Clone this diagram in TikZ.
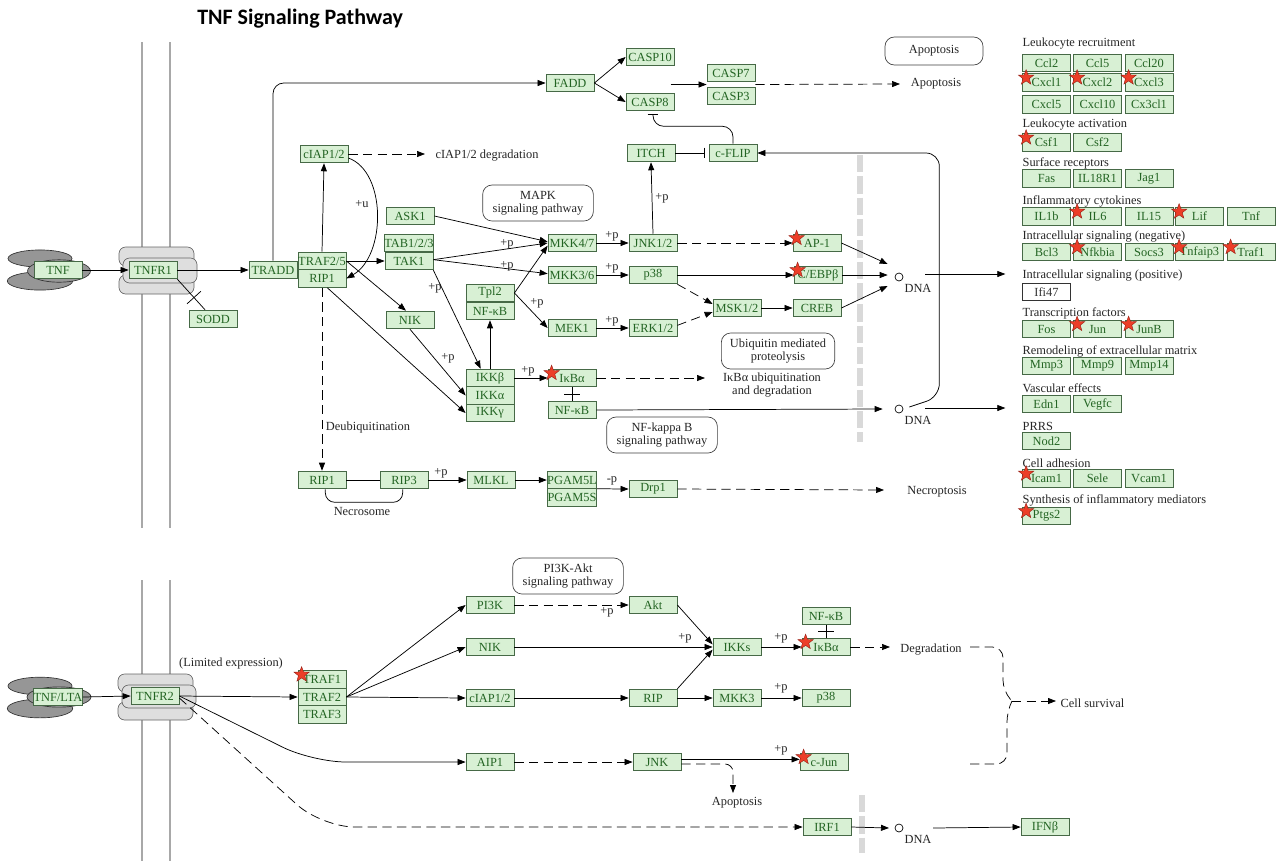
\documentclass[tikz,border=0pt]{standalone}
\usepackage{fontspec}
\setmainfont{Liberation Serif}
\newfontfamily\titlefont{Carlito}
\usetikzlibrary{arrows.meta,shapes.geometric,calc}
\definecolor{gfill}{RGB}{216,240,212}
\definecolor{gborder}{RGB}{70,105,70}
\definecolor{gtext}{RGB}{35,100,35}
\definecolor{starred}{RGB}{236,62,40}
\definecolor{stardark}{RGB}{150,30,20}
\definecolor{memb}{RGB}{168,168,168}
\definecolor{recfill}{RGB}{222,222,222}
\definecolor{ligfill}{RGB}{150,150,150}
\newcommand{\gf}{\fontsize{9.3}{10}\selectfont}
\newcommand{\kst}[2]{\node[kstar] (#1) at ([xshift=3pt,yshift=-3.3pt]#2.north west) {};}
\tikzset{
 gene/.style={draw=gborder, fill=gfill, text=gtext, font=\gf, minimum width=36pt, minimum height=13.3pt, inner sep=0pt, line width=0.6pt},
 wgene/.style={gene, fill=white, draw=black!80, text=black!80},
 kstar/.style={star, star points=5, star point ratio=2.4, minimum size=12pt, inner sep=0pt, fill=starred, draw=stardark, line width=0.3pt},
 lbl/.style={font=\gf, inner sep=1pt, text=black!85, align=center},
 pw/.style={draw=black!75, rounded corners=7pt, align=center, font=\fontsize{9.3}{9.8}\selectfont, inner sep=0pt, minimum width=83pt, minimum height=27pt, line width=0.5pt, text=black!85},
 arr/.style={-{Triangle[length=6pt,width=4.5pt]}, line width=0.55pt},
 darr/.style={arr, dash pattern=on 7pt off 4pt},
 dsh/.style={line width=0.55pt, dash pattern=on 7pt off 4pt},
 inh/.style={-{Bar[width=8pt]}, line width=0.55pt},
 ln/.style={line width=0.55pt},
 membrane/.style={draw=memb, line width=2.2pt},
 rec/.style={draw=black!60, fill=recfill, rounded corners=5pt, line width=0.5pt},
 lig/.style={draw=black!80, fill=ligfill, line width=0.5pt},
 gate/.style={draw=black!15, line width=4pt, dash pattern=on 13pt off 3pt},
 dnac/.style={circle, draw=black, fill=white, minimum size=6pt, inner sep=0pt, line width=0.5pt},
}
\begin{document}
\begin{tikzpicture}[x=0.75pt,y=-0.75pt]
\useasboundingbox (0,0) rectangle (1280,861);
\fill[white] (0,0) rectangle (1280,861);

\node[anchor=west, inner sep=0pt, font=\titlefont\fontsize{16.5}{18}\selectfont\bfseries] (title) at (197,19) {TNF Signaling Pathway};

% membranes
\draw[membrane] (142,42) -- (142,528);
\draw[membrane] (170,42) -- (170,528);
\draw[membrane] (142,580) -- (142,861);
\draw[membrane] (170,580) -- (170,861);

% ligands and receptors
\draw[lig] (40,258.5) ellipse [x radius=24pt, y radius=6.4pt];
\draw[lig] (40,281) ellipse [x radius=24.5pt, y radius=6.8pt];
\draw[lig] (59,271) ellipse [x radius=23.6pt, y radius=8.4pt];
\draw[rec] (119,247) rectangle (194,266);
\draw[rec] (119,275) rectangle (194,294);
\draw[rec] (123,258) rectangle (197,283);

\draw[lig] (40,686) ellipse [x radius=24pt, y radius=6.6pt];
\draw[lig] (40,708.5) ellipse [x radius=24.5pt, y radius=7pt];
\draw[lig] (59,697) ellipse [x radius=24pt, y radius=7.6pt];
\draw[rec] (118,674) rectangle (193,692);
\draw[rec] (118,702) rectangle (193,720);
\draw[rec] (122,685) rectangle (196,708);

% gates
\draw[gate] (860,155) -- (860,442);
\draw[gate] (862,795) -- (862,853);

% ===== top nodes =====
\node[gene] (tnf) at (58,270) {TNF};
\node[gene] (tnfr1) at (153,270) {TNFR1};
\node[gene] (sodd) at (213,319) {SODD};
\node[gene] (tradd) at (273,270) {TRADD};
\node[gene] (traf25) at (322,261) {TRAF2/5};
\node[gene] (rip1) at (322,278.5) {RIP1};
\node[gene] (ciap) at (324,154) {cIAP1/2};
\node[gene] (fadd) at (570,83) {FADD};
\node[gene] (casp10) at (650,57) {CASP10};
\node[gene] (casp8) at (650,102) {CASP8};
\node[gene] (casp7) at (731,73) {CASP7};
\node[gene] (casp3) at (731,96) {CASP3};
\node[gene] (itch) at (651,153) {ITCH};
\node[gene] (cflip) at (733,153) {c-FLIP};
\node[gene] (ask1) at (410,216) {ASK1};
\node[gene] (tab) at (409,243) {TAB1/2/3};
\node[gene] (tak1) at (409,261) {TAK1};
\node[gene] (nik) at (410,320) {NIK};
\node[gene] (tpl2) at (490,293) {Tpl2};
\node[gene] (nfkba) at (490,311) {NF-κB};
\node[gene] (ikkb) at (490,378) {IKKβ};
\node[gene] (ikka) at (490,395.5) {IKKα};
\node[gene] (ikkg) at (490,413) {IKKγ};
\node[gene] (mkk47) at (572,243) {MKK4/7};
\node[gene] (mkk36) at (572,275) {MKK3/6};
\node[gene] (mek1) at (572,328) {MEK1};
\node[gene] (jnk12) at (653,243) {JNK1/2};
\node[gene] (p38a) at (653,275) {p38};
\node[gene] (erk) at (653,328) {ERK1/2};
\node[gene] (msk) at (737,308) {MSK1/2};
\node[gene] (ap1) at (817,243) {AP-1};
\node[gene] (cebp) at (818,275) {C/EBPβ};
\node[gene] (creb) at (817,308) {CREB};
\node[gene] (ikba) at (572,378) {IκBα};
\node[gene] (nfkbb) at (572,410) {NF-κB};
\node[gene] (rip1b) at (322,480) {RIP1};
\node[gene] (rip3) at (404,480) {RIP3};
\node[gene] (mlkl) at (491,480) {MLKL};
\node[gene] (pgam5l) at (572,480) {PGAM5L};
\node[gene] (pgam5s) at (572,497.5) {PGAM5S};
\node[gene] (drp1) at (653,489) {Drp1};

% pathway boxes
\node[pw, minimum width=73.5pt, minimum height=21pt] (apobox) at (934,51) {Apoptosis};
\node[pw] (mapk) at (538,203) {MAPK\\signaling pathway};
\node[pw, minimum width=85pt] (ubq) at (778,351) {Ubiquitin mediated\\proteolysis};
\node[pw] (nfkbpw) at (662,435) {NF-kappa B\\signaling pathway};
\node[pw] (pi3kpw) at (568,576) {PI3K-Akt\\signaling pathway};

% text labels
\node[lbl] (apo1) at (936,84) {Apoptosis};
\node[lbl] (ciapdeg) at (487,156) {cIAP1/2 degradation};
\node[lbl, font=\fontsize{9.3}{9.4}\selectfont] (ikbdeg) at (772,385) {IκBα ubiquitination\\and degradation};
\node[lbl] (deub) at (368,428) {Deubiquitination};
\node[lbl] (necro) at (362,511) {Necrosome};
\node[lbl] (necropt) at (937,492) {Necroptosis};
\node[dnac] (dna1) at (899,277) {};
\node[lbl] (dna1l) at (918,288) {DNA};
\node[dnac] (dna2) at (899,409) {};
\node[lbl] (dna2l) at (918,420) {DNA};
\node[lbl] (pu) at (362,204) {+u};
\node[lbl] (p1) at (507,244) {+p};
\node[lbl] (p2) at (507,266) {+p};
\node[lbl] (p3) at (435,288) {+p};
\node[lbl] (p4) at (537,303) {+p};
\node[lbl] (p5) at (448,358) {+p};
\node[lbl] (p6) at (612,236) {+p};
\node[lbl] (p7) at (612,268) {+p};
\node[lbl] (p8) at (612,321) {+p};
\node[lbl] (p9) at (662,198) {+p};
\node[lbl] (p10) at (528,371) {+p};
\node[lbl] (p11) at (441,473) {+p};
\node[lbl] (p12) at (612,481) {-p};

% free ends
\coordinate (apoin) at (900,84);
\coordinate (ciapin) at (425,154);
\coordinate (ikbin) at (705,378);
\coordinate (necin) at (884,490);

% ===== top connectors =====
\draw[arr] (tnf.east) -- (tnfr1.west);
\draw[arr] (tnfr1.east) -- (tradd.west);
\coordinate (soddin) at ($(sodd.north)+(-8,0)$);
\draw[ln] (tnfr1.south east) -- (soddin);
\coordinate (soddm) at ($(tnfr1.south east)!0.6!(soddin)$);
\draw[ln] ($(soddm)!7pt!90:(soddin)$) -- ($(soddm)!7pt!-90:(soddin)$);
\draw[arr, rounded corners=8pt] (tradd.north) |- (fadd.west);
\draw[arr] (fadd.east) -- (casp10.west);
\draw[arr] (fadd.east) -- (casp8.west);
\coordinate (c73w) at ($(casp7.south west)!0.5!(casp3.north west)$);
\coordinate (c73e) at ($(casp7.south east)!0.5!(casp3.north east)$);
\coordinate (c73src) at ($(c73w)+(-36,0)$);
\draw[arr] (c73src) -- (c73w);
\draw[darr] (c73e) -- (apoin);
\draw[inh, shorten >=3pt] (itch.east) -- (cflip.west);
\draw[inh, rounded corners=8pt] (cflip.north) |- ($(casp8.south)+(3,15)$) -- ($(casp8.south)+(3,3)$);
\draw[arr] (ap1.east) -- ($(dna1.west)+(-7,-13)$);
\draw[arr] (cebp.east) -- ($(dna1.west)+(-7,-2)$);
\draw[arr] (creb.east) -- ($(dna1.west)+(-7,9)$);
\draw[arr] ($(dna1.east)+(22,-3)$) -- ($(dna1.east)+(102,-3)$);
\draw[arr] (nfkbb.east) -- ($(dna2.west)+(-12,0)$);
\draw[arr] ($(dna2.east)+(22,-1)$) -- ($(dna2.east)+(102,-1)$);
\draw[arr, rounded corners=10pt] ($(dna2.east)+(6,-2)$) -- ++(30,-10) |- (cflip.east);
\draw[arr] (jnk12.north) -- (itch.south);
\draw[darr] (jnk12.east) -- (ap1.west);
\draw[arr] (p38a.east) -- (cebp.west);
\draw[darr] (p38a.south east) -- ([yshift=3pt]msk.west);
\draw[darr] ([yshift=2pt]erk.east) -- ([yshift=-3pt]msk.west);
\draw[arr] (msk.east) -- (creb.west);
\draw[arr] (mkk47.east) -- (jnk12.west);
\draw[arr] (mkk36.east) -- (p38a.west);
\draw[arr] (mek1.east) -- (erk.west);
\draw[arr] (ask1.east) -- ([yshift=1pt]mkk47.west);
\draw[arr] ([yshift=1pt]tak1.east) -- (mkk47.west);
\draw[arr] ([yshift=1pt]tak1.east) -- ([yshift=1pt]mkk36.west);
\draw[arr] (tpl2.east) -- ([yshift=-2pt]mkk47.west);
\draw[arr] (tpl2.east) -- (mek1.west);
\draw[arr] (traf25.east) -- (tak1.west);
\draw[arr] (traf25.east) -- ([xshift=-3pt]nik.north);
\draw[arr] (traf25.north) -- (ciap.south);
\draw[darr] (ciap.east) -- (ciapin);
\draw[arr] ([yshift=-3pt]ciap.east) .. controls (387,172) and (386,256) .. (rip1.east);
\draw[arr] ([xshift=4pt]rip1.south) -- (ikkg.west);
\draw[arr] (nik.south) -- (ikka.west);
\draw[arr] (tak1.south east) -- ([xshift=-7pt]ikkb.north);
\draw[arr] (ikkb.north) -- (nfkba.south);
\draw[arr] (ikkb.east) -- (ikba.west);
\draw[ln] (ikba.south) -- (nfkbb.north);
\coordinate (bm1) at ($(ikba.south)!0.5!(nfkbb.north)$);
\draw[ln] ($(bm1)+(-8,0)$) -- ($(bm1)+(8,0)$);
\draw[darr] (ikba.east) -- (ikbin);
\draw[darr] (rip1.south) -- (rip1b.north);
\draw[ln] (rip1b.east) -- (rip3.west);
\draw[ln, rounded corners=7pt] ([xshift=2.5pt]rip1b.south) |- ($(rip1b.south)!0.5!(rip3.south)+(0,13)$) -| ([xshift=-1pt]rip3.south);
\draw[arr] (rip3.east) -- (mlkl.west);
\draw[arr] (mlkl.east) -- (pgam5l.west);
\coordinate (pg) at ($(pgam5l.south east)!0.5!(pgam5s.north east)$);
\draw[arr] (pg) -- (drp1.west);
\draw[darr] (drp1.east) -- (necin);

% ===== right list =====
\node[lbl, anchor=west] (h1) at (1021,44) {Leukocyte recruitment};
\node[gene] (ccl2) at (1046.5,63) {Ccl2};
\node[gene] (ccl5) at (1097.5,63) {Ccl5};
\node[gene] (ccl20) at (1149,63) {Ccl20};
\node[gene] (cxcl1) at (1046.5,82.5) {Cxcl1};
\node[gene] (cxcl2) at (1097.5,82.5) {Cxcl2};
\node[gene] (cxcl3) at (1149,82.5) {Cxcl3};
\node[gene] (cxcl5) at (1046.5,104.5) {Cxcl5};
\node[gene] (cxcl10) at (1097.5,104.5) {Cxcl10};
\node[gene] (cx3cl1) at (1149,104.5) {Cx3cl1};
\node[lbl, anchor=west] (h2) at (1021,125) {Leukocyte activation};
\node[gene] (csf1) at (1046.5,142.5) {Csf1};
\node[gene] (csf2) at (1097.5,142.5) {Csf2};
\node[lbl, anchor=west] (h3) at (1021,163) {Surface receptors};
\node[gene] (fas) at (1046.5,178.5) {Fas};
\node[gene] (il18r1) at (1097.5,178.5) {IL18R1};
\node[gene] (jag1) at (1149,178.5) {Jag1};
\node[lbl, anchor=west] (h4) at (1021,201) {Inflammatory cytokines};
\node[gene] (il1b) at (1046.5,216.5) {IL1b};
\node[gene] (il6) at (1097.5,216.5) {IL6};
\node[gene] (il15) at (1149,216.5) {IL15};
\node[gene] (lif) at (1199.5,216.5) {Lif};
\node[gene] (tnfg) at (1251,216.5) {Tnf};
\node[lbl, anchor=west] (h5) at (1021,237) {Intracellular signaling (negative)};
\node[gene] (bcl3) at (1046.5,252) {Bcl3};
\node[gene] (nfkbia) at (1097.5,252) {Nfkbia};
\node[gene] (socs3) at (1149,252) {Socs3};
\node[gene] (tnfaip3) at (1199.5,252) {Tnfaip3};
\node[gene] (traf1g) at (1251,252) {Traf1};
\node[lbl, anchor=west] (h6) at (1021,276) {Intracellular signaling (positive)};
\node[wgene] (ifi47) at (1046.5,292) {Ifi47};
\node[lbl, anchor=west] (h7) at (1021,313) {Transcription factors};
\node[gene] (fos) at (1046.5,329) {Fos};
\node[gene] (jun) at (1097.5,329) {Jun};
\node[gene] (junb) at (1149,329) {JunB};
\node[lbl, anchor=west] (h8) at (1021,351) {Remodeling of extracellular matrix};
\node[gene] (mmp3) at (1046.5,366) {Mmp3};
\node[gene] (mmp9) at (1097.5,366) {Mmp9};
\node[gene] (mmp14) at (1149,366) {Mmp14};
\node[lbl, anchor=west] (h9) at (1021,388) {Vascular effects};
\node[gene] (edn1) at (1046.5,404) {Edn1};
\node[gene] (vegfc) at (1097.5,404) {Vegfc};
\node[lbl, anchor=west] (h10) at (1021,426) {PRRS};
\node[gene] (nod2) at (1046.5,441) {Nod2};
\node[lbl, anchor=west] (h11) at (1021,463) {Cell adhesion};
\node[gene] (icam1) at (1046.5,478.5) {Icam1};
\node[gene] (sele) at (1097.5,478.5) {Sele};
\node[gene] (vcam1) at (1149,478.5) {Vcam1};
\node[lbl, anchor=west] (h12) at (1021,500) {Synthesis of inflammatory mediators};
\node[gene] (ptgs2) at (1046.5,516) {Ptgs2};

% ===== bottom =====
\node[gene] (tnflta) at (58,697) {TNF/LTA};
\node[gene] (tnfr2) at (155,696) {TNFR2};
\node[gene] (traf1) at (322,679.5) {TRAF1};
\node[gene] (traf2) at (322,697) {TRAF2};
\node[gene] (traf3) at (322,714.5) {TRAF3};
\node[gene] (pi3k) at (490,605) {PI3K};
\node[gene] (akt) at (653,605) {Akt};
\node[gene] (nik2) at (490,647) {NIK};
\node[gene] (ikks) at (737,647) {IKKs};
\node[gene] (ikba2) at (826,647) {IκBα};
\node[gene] (nfkb3) at (826,616) {NF-κB};
\node[gene] (ciap2) at (490,698) {cIAP1/2};
\node[gene] (rip) at (653,698) {RIP};
\node[gene] (mkk3) at (737,698) {MKK3};
\node[gene] (p38b) at (826,698) {p38};
\node[gene] (aip1) at (490,762) {AIP1};
\node[gene] (jnk) at (657,762) {JNK};
\node[gene] (cjun) at (824,762) {c-Jun};
\node[gene] (irf1) at (827,827) {IRF1};
\node[gene] (ifnb) at (1045,827) {IFNβ};
\node[dnac] (dna3) at (899,828) {};
\node[lbl] (dna3l) at (918,839) {DNA};
\node[lbl] (limexp) at (231,664) {(Limited expression)};
\node[lbl] (apo2) at (737,803) {Apoptosis};
\node[lbl] (degr) at (931,650) {Degradation};
\node[lbl, anchor=west] (survival) at (1059,703) {Cell survival};
\node[lbl] (q1) at (607,612) {+p};
\node[lbl] (q2) at (685,638) {+p};
\node[lbl] (q3) at (781,638) {+p};
\node[lbl] (q4) at (781,688) {+p};
\node[lbl] (q5) at (781,750) {+p};

\coordinate (degin) at (890,647);
\coordinate (apo2in) at (733,793);
\coordinate (dna3in) at (889,828);
\coordinate (dna3out) at (933,828);
\coordinate (brp) at (1012,701);
\coordinate (survin) at (1056,701);

\draw[arr] (tnflta.east) -- (tnfr2.west);
\draw[arr] (tnfr2.east) -- (traf2.west);
\draw[arr, rounded corners=25pt] (tnfr2.east) -- ($(aip1.west -| traf2.west)+(15,0)$) -- (aip1.west);
\draw[darr, rounded corners=25pt] ([yshift=-1.5pt]tnfr2.east) -- ($(irf1.west -| traf2.west)+(24,0)$) -- (irf1.west);
\draw[arr] (traf2.east) -- (pi3k.west);
\draw[arr] (traf2.east) -- (nik2.west);
\draw[arr] (traf2.east) -- (ciap2.west);
\draw[darr] (pi3k.east) -- (akt.west);
\draw[arr] (akt.east) -- ([yshift=2pt]ikks.west);
\draw[arr] (nik2.east) -- (ikks.west);
\draw[arr] (rip.north east) -- ([yshift=-2pt]ikks.west);
\draw[arr] (ciap2.east) -- (rip.west);
\draw[arr] (rip.east) -- (mkk3.west);
\draw[arr] (ikks.east) -- (ikba2.west);
\draw[arr] (mkk3.east) -- (p38b.west);
\draw[ln] (nfkb3.south) -- (ikba2.north);
\coordinate (bm2) at ($(nfkb3.south)!0.5!(ikba2.north)$);
\draw[ln] ($(bm2)+(-8,0)$) -- ($(bm2)+(8,0)$);
\draw[darr] (ikba2.east) -- (degin);
\draw[dsh, rounded corners=8pt] (970,647) -- (1003,647) -- (1003,691) -- (brp);
\draw[dsh, rounded corners=8pt] (970,764) -- (1007,764) -- (1007,711) -- (brp);
\draw[darr] (brp) -- (survin);
\draw[arr] ([yshift=2pt]jnk.east) -- ([yshift=2pt]cjun.west);
\draw[darr, rounded corners=6pt] ([yshift=-1.5pt]jnk.east) -| (apo2in);
\draw[darr] (aip1.east) -- (jnk.west);
\draw[arr] (irf1.east) -- (dna3in);
\draw[arr] (dna3out) -- (ifnb.west);

% stars
\kst{s1}{ap1}
\kst{s2}{cebp}
\kst{s3}{ikba}
\kst{s4}{cxcl1}
\kst{s5}{cxcl2}
\kst{s6}{cxcl3}
\kst{s7}{csf1}
\kst{s8}{il6}
\kst{s9}{lif}
\kst{s10}{nfkbia}
\kst{s11}{tnfaip3}
\kst{s12}{traf1g}
\kst{s13}{jun}
\kst{s14}{junb}
\kst{s15}{icam1}
\kst{s16}{ptgs2}
\kst{s17}{traf1}
\kst{s18}{ikba2}
\kst{s19}{cjun}
\end{tikzpicture}
\end{document}
